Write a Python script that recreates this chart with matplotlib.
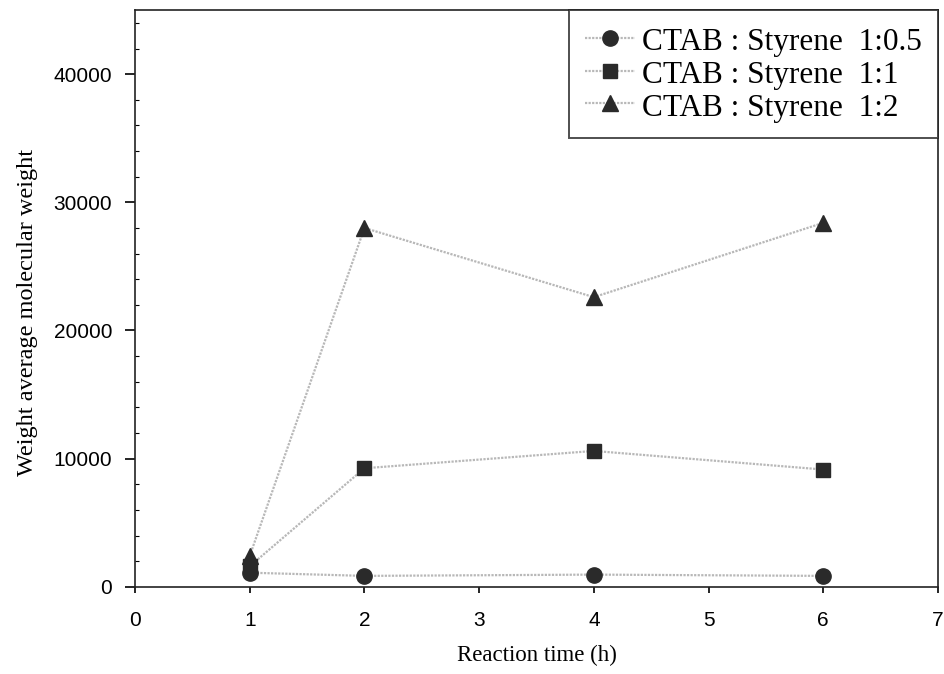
import matplotlib.pyplot as plt
from matplotlib.ticker import MultipleLocator

# reaction time (h)
time_h = [1, 2, 4, 6]

# weight average molecular weight for each CTAB : styrene ratio
mw_1_05 = [1100, 850, 950, 850]
mw_1_1 = [1600, 9250, 10600, 9150]
mw_1_2 = [2400, 28000, 22600, 28400]

labels = ["CTAB : Styrene  1:0.5", "CTAB : Styrene  1:1", "CTAB : Styrene  1:2"]

fig = plt.figure(figsize=(9.44, 6.74), dpi=100)
ax = fig.add_axes([0.143, 0.1294, 0.8506, 0.8556])

line_kw = dict(color="#b8b8b8", linestyle=(0, (1, 0.6)), linewidth=1.6,
               markerfacecolor="#2a2a2a", markeredgecolor="#2a2a2a")
ax.plot(time_h, mw_1_05, marker="o", markersize=11, label=labels[0], **line_kw)
ax.plot(time_h, mw_1_1, marker="s", markersize=9.5, label=labels[1], **line_kw)
ax.plot(time_h, mw_1_2, marker="^", markersize=11, label=labels[2], **line_kw)

ax.set_xlim(0, 7)
ax.set_ylim(0, 45000)
ax.xaxis.set_major_locator(MultipleLocator(1))
ax.yaxis.set_major_locator(MultipleLocator(10000))
ax.yaxis.set_minor_locator(MultipleLocator(2000))

ax.tick_params(axis="both", which="major", direction="out", width=1.2,
               labelsize=15)
ax.tick_params(axis="x", which="major", length=4.5, pad=13)
ax.tick_params(axis="y", which="major", length=7, pad=9.5)
ax.tick_params(axis="y", which="minor", direction="in", length=3, width=0.8)
for lbl in ax.get_xticklabels() + ax.get_yticklabels():
    lbl.set_fontfamily("Liberation Sans")

for sp in ax.spines.values():
    sp.set_linewidth(1.2)
    sp.set_color("#222222")

ax.set_xlabel("Reaction time (h)", family="Liberation Serif", fontsize=16.5,
              labelpad=11)
ax.set_ylabel("Weight average molecular weight", family="Liberation Serif",
              fontsize=17.5, labelpad=11)
ax.yaxis.label.set_y(0.475)

leg = ax.legend(loc="upper right", bbox_to_anchor=(1.0, 1.0), borderaxespad=0,
                prop={"family": "Liberation Serif", "size": 22.5},
                frameon=True, fancybox=False, handlelength=1.6,
                handleheight=1.0, handletextpad=0.25, labelspacing=0.03,
                borderpad=0.5)
leg.get_frame().set_edgecolor("#222222")
leg.get_frame().set_linewidth(1.4)

fig.savefig("out.png", dpi=100)
